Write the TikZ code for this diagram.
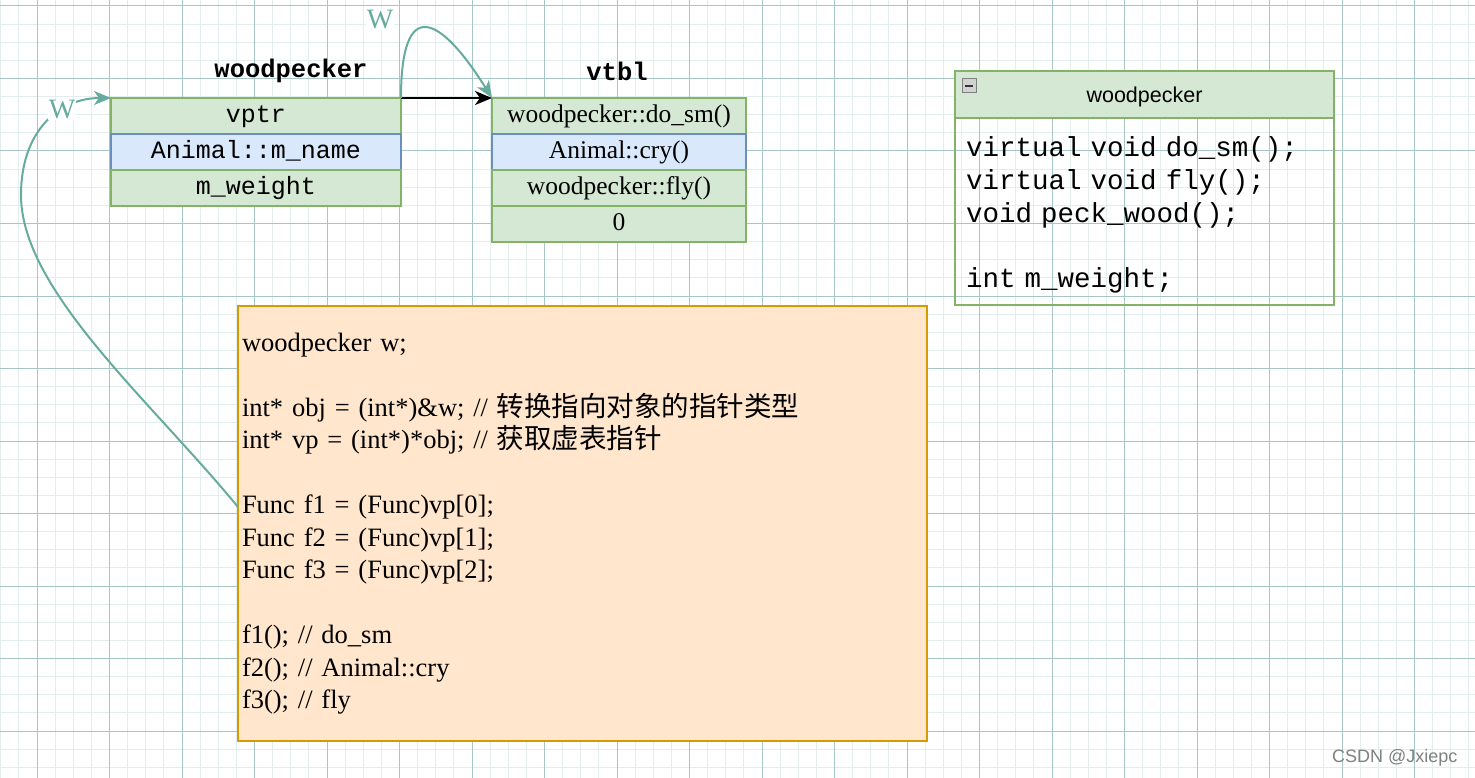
\documentclass[tikz,border=0pt]{standalone}
\usepackage{fontspec}
\setmainfont{Liberation Serif}
\setsansfont{Liberation Sans}
\setmonofont{Liberation Mono}
\newfontfamily\cjk{Noto Sans CJK SC}
\usetikzlibrary{arrows.meta}

\definecolor{gfill}{HTML}{D5E8D4}
\definecolor{gline}{HTML}{82B366}
\definecolor{bfill}{HTML}{DAE8FC}
\definecolor{bline}{HTML}{6C8EBF}
\definecolor{ofill}{HTML}{FFE6CC}
\definecolor{oline}{HTML}{D79B00}
\definecolor{teal1}{HTML}{67AB9F}
\definecolor{gridmaj}{HTML}{A9C6C6}
\definecolor{gridmin}{HTML}{E2EDED}

\begin{document}
\begin{tikzpicture}[x=1pt, y=-1pt, gcell/.style={draw=gline, fill=gfill, line width=2pt, minimum height=36pt, inner sep=0pt, outer sep=0pt, text height=18pt, text depth=4pt}, bcell/.style={gcell, draw=bline, fill=bfill}, mono/.style={font=\ttfamily\fontsize{25}{30}\selectfont}, serif/.style={font=\fontsize{25.5}{28}\selectfont}, title/.style={font=\ttfamily\bfseries\fontsize{25.5}{30}\selectfont}, lbl/.style={fill=white, text=teal1, inner sep=1pt, font=\fontsize{28}{30}\selectfont}, n/.style={-{Stealth[length=17pt,width=14pt,inset=5pt]}, line width=2.5pt}, tl/.style={n, draw=teal1, line width=2pt}]
            \useasboundingbox (0,0) rectangle (1475,778);
            \fill[white] (0,0) rectangle (1475,778);
            % grid
            \foreach \i in {0,...,81} \draw[gridmin, line width=1pt] (0.75+\i*18.125,0) -- (0.75+\i*18.125,778);
            \foreach \j in {0,...,42} \draw[gridmin, line width=1pt] (0,6+\j*18.125) -- (1475,6+\j*18.125);
            \foreach \i in {0,...,19} \draw[gridmaj, line width=1pt] (37+\i*72.5,0) -- (37+\i*72.5,778);
            \foreach \j in {0,...,10} \draw[gridmaj, line width=1pt] (0,6+\j*72.5) -- (1475,6+\j*72.5);
            % object layout
            \node[title] (objname) at (291,71) {woodpecker};
            \node[gcell, mono, minimum width=290pt] (vptr) at (256,116) {vptr};
            \node[bcell, mono, minimum width=290pt] (mname) at (256,152) {Animal::m\_name};
            \node[gcell, mono, minimum width=290pt] (mweight) at (256,188) {m\_weight};
            % vtbl
            \node[title] (vtblname) at (617,71) {vtbl};
            \node[gcell, serif, minimum width=254pt] (f1) at (619,116) {woodpecker::do\_sm()};
            \node[bcell, serif, minimum width=254pt] (f2) at (619,152) {Animal::cry()};
            \node[gcell, serif, minimum width=254pt] (f3) at (619,188) {woodpecker::fly()};
            \node[gcell, serif, minimum width=254pt] (zero) at (619,224) {0};
            % class box
            \node[gcell, minimum width=379pt, minimum height=47pt, text height=19pt, text depth=2pt, font=\sffamily\fontsize{21.5}{25}\selectfont] (clshead) at (1144.5,94.5) {woodpecker};
            \node[draw=gray, fill=gray!35, line width=1pt, minimum size=14pt, inner sep=0pt] (fold) at (969,86) {};
            \draw[line width=2pt, black!80] ([xshift=-4pt]fold.center) -- ([xshift=4pt]fold.center);
            \node[draw=gline, line width=2pt, minimum width=379pt, minimum height=187pt, text width=357pt, align=left, inner sep=0pt, outer sep=0pt, text depth=129pt, font=\ttfamily\fontsize{27.5}{32.75}\selectfont] (clsbody) at (1144.5,211.5) {virtual void do\_sm();\\ virtual void fly();\\ void peck\_wood();\\[32.75pt] int m\_weight;};
            % code
            \node[draw=oline, fill=ofill, line width=2pt, minimum width=689pt, minimum height=435pt, text width=681pt, align=left, inner sep=0pt, outer sep=0pt, font=\fontsize{26.5}{32.5}\selectfont] (code) at (582.5,523.5) {woodpecker w;\\[32.5pt]
            int* obj = (int*)\&w; // {\cjk\fontsize{27.5}{32.5}\selectfont 转换指向对象的指针类型}\\
            int* vp = (int*)*obj; // {\cjk\fontsize{27.5}{32.5}\selectfont 获取虚表指针}\\[32.5pt]
            Func f1 = (Func)vp[0];\\
            Func f2 = (Func)vp[1];\\
            Func f3 = (Func)vp[2];\\[32.5pt]
            f1(); // do\_sm\\
            f2(); // Animal::cry\\
            f3(); // fly};
            \node[font=\sffamily\fontsize{18}{20}\selectfont, text=gray, anchor=east] (mark) at (1461,758) {CSDN @Jxiepc};
            % edges
            \draw[n] (vptr.north east) -- (f1.north west);
            \draw[tl] (vptr.north east) .. controls (401,-5) and (440,15) .. (f1.north west);
            \draw[tl] ([yshift=16.5pt]code.west) .. controls (150,400) and (21,290) .. (21,195) .. controls (21,130) and (60,98) .. (vptr.north west);
            \node[lbl] (w1) at (380,20) {W};
            \node[lbl] (w2) at (62,110) {W};
        \end{tikzpicture}
\end{document}
